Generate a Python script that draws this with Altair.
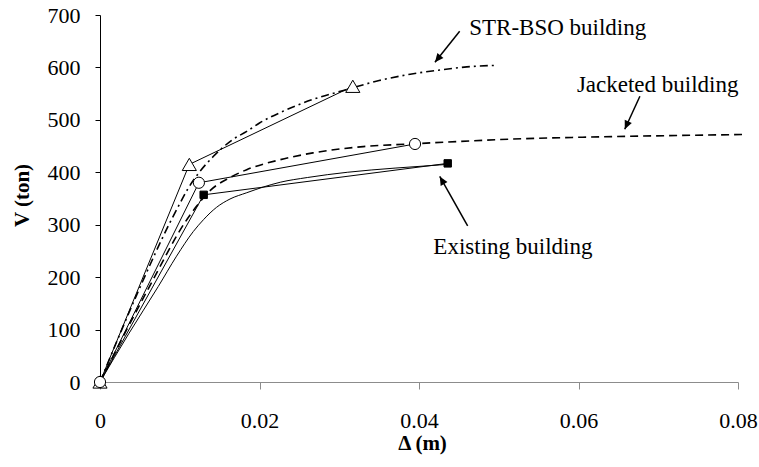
import altair as alt
import pandas as pd

FONT = "Liberation Serif"

# ---- pushover curves (Delta in m, V in ton) ----
exist_x = [0, 0.0036, 0.0073, 0.0096, 0.0117, 0.0130, 0.0146, 0.0163, 0.0184, 0.0205, 0.0226, 0.026, 0.031, 0.037, 0.0426, 0.0435]
exist_v = [0, 92, 182, 240, 287, 310, 333, 349, 361, 372, 381, 390, 400, 408, 414, 415]

jack_x = [0, 0.0062, 0.0109, 0.0121, 0.0138, 0.0163, 0.0184, 0.0226, 0.0267, 0.033, 0.0389, 0.053, 0.0643, 0.0805]
jack_v = [0, 182, 310, 335, 365, 390, 405, 424, 437, 449, 454, 464, 468, 472]

str_x = [0, 0.005, 0.0088, 0.0100, 0.0110, 0.0125, 0.0142, 0.0167, 0.0184, 0.0200, 0.0226, 0.0267, 0.031, 0.035, 0.0389, 0.0426, 0.046, 0.0498]
str_v = [0, 180, 305, 340, 368, 401, 430, 463, 478, 494, 514, 539, 558, 575, 587, 595, 601, 604]

# ---- bilinear idealisations ----
exist_bi_x = [0, 0.013, 0.0436]
exist_bi_v = [0, 357, 417]
jack_bi_x = [0, 0.0124, 0.0395]
jack_bi_v = [0, 380, 454]
str_bi_x = [0, 0.0112, 0.0317]
str_bi_v = [0, 415, 564]

# ---- annotations (data coordinates) ----
ann_text = ["STR-BSO building", "Jacketed building", "Existing building"]
ann_x = [0.0463, 0.0598, 0.0418]
ann_v = [675, 566, 258]
arrow_tail_x = [0.0451, 0.0677, 0.0461]
arrow_tail_v = [669, 545, 298]
arrow_head_x = [0.0420, 0.0658, 0.0426]
arrow_head_v = [610, 482, 392]
arrow_angle = [219, 204, 330]

x_ticks = [0, 0.02, 0.04, 0.06, 0.08]
y_ticks = [0, 100, 200, 300, 400, 500, 600, 700]


def frame(xs, vs):
    return pd.DataFrame({"d": xs, "v": vs, "i": list(range(len(xs)))})


xsc = alt.Scale(domain=[0, 0.08], nice=False)
ysc = alt.Scale(domain=[0, 700], nice=False)

X = alt.X("d:Q", scale=xsc, axis=alt.Axis(
    values=x_ticks, format="~g", title="Δ (m)", grid=False, labelFlush=False,
    domainColor="#8c8c8c", tickColor="#8c8c8c", tickSize=7, labelPadding=21,
    labelFont=FONT, labelFontSize=22, labelColor="black",
    titleFont=FONT, titleFontSize=21, titleFontWeight="bold", titleColor="black",
    titleX=322, titleY=61, titleBaseline="middle"))
Y = alt.Y("v:Q", scale=ysc, axis=alt.Axis(
    values=y_ticks, title="V (ton)", grid=False, labelFlush=False,
    domainColor="black", tickColor="black", tickSize=5, labelPadding=15,
    labelFont=FONT, labelFontSize=22, labelColor="black",
    titleFont=FONT, titleFontSize=21, titleFontWeight="bold", titleColor="black",
    titleX=-78, titleY=180, titleBaseline="middle", titleAngle=270))


def line(xs, vs, dash=None, width=1.0, interp="linear"):
    kw = dict(color="black", strokeWidth=width, interpolate=interp)
    if dash:
        kw["strokeDash"] = dash
    return alt.Chart(frame(xs, vs)).mark_line(**kw).encode(
        x=X, y=Y, order="i:Q")


def pts(xs, vs, shape, fill, size):
    return alt.Chart(frame(xs, vs)).mark_point(
        shape=shape, filled=True, fill=fill, stroke="black", strokeWidth=1,
        size=size, opacity=1).encode(x=alt.X("d:Q", scale=xsc), y=alt.Y("v:Q", scale=ysc))


layers = [
    line(exist_x, exist_v, width=1.0, interp="monotone"),
    line(jack_x, jack_v, dash=[8, 5], width=1.6, interp="monotone"),
    line(str_x, str_v, dash=[8, 4, 2, 4], width=1.6, interp="monotone"),
    line(exist_bi_x, exist_bi_v, width=1.0),
    line(jack_bi_x, jack_bi_v, width=1.0),
    line(str_bi_x, str_bi_v, width=1.0),
    pts(str_bi_x, str_bi_v, "triangle-up", "white", 200),
    pts(exist_bi_x, exist_bi_v, "square", "black", 55),
    pts(jack_bi_x, jack_bi_v, "circle", "white", 125),
]

ann_df = pd.DataFrame({"t": ann_text, "d": ann_x, "v": ann_v})
texts = alt.Chart(ann_df).mark_text(
    align="left", baseline="middle", font=FONT, fontSize=23, color="black").encode(
    x=alt.X("d:Q", scale=xsc), y=alt.Y("v:Q", scale=ysc), text="t:N")

arr_df = pd.DataFrame({"d": arrow_tail_x, "v": arrow_tail_v,
                       "d2": arrow_head_x, "v2": arrow_head_v, "a": arrow_angle})
shafts = alt.Chart(arr_df).mark_rule(color="black", strokeWidth=1.5).encode(
    x=alt.X("d:Q", scale=xsc), y=alt.Y("v:Q", scale=ysc), x2="d2:Q", y2="v2:Q")
heads = alt.Chart(arr_df).mark_point(
    shape="M0,0L-0.45,1L0.45,1Z", filled=True, color="black", size=300, opacity=1).encode(
    x=alt.X("d2:Q", scale=xsc), y=alt.Y("v2:Q", scale=ysc),
    angle=alt.Angle("a:Q", scale=None))

chart = alt.layer(*layers, texts, shafts, heads).properties(
    width=638, height=367,
    padding={"left": 100, "top": 15, "right": 21, "bottom": 85},
    autosize=alt.AutoSizeParams(type="none"),
    background="white",
).configure_view(stroke=None)

chart.save("out.html", embed_options={"renderer": "svg", "actions": False})
